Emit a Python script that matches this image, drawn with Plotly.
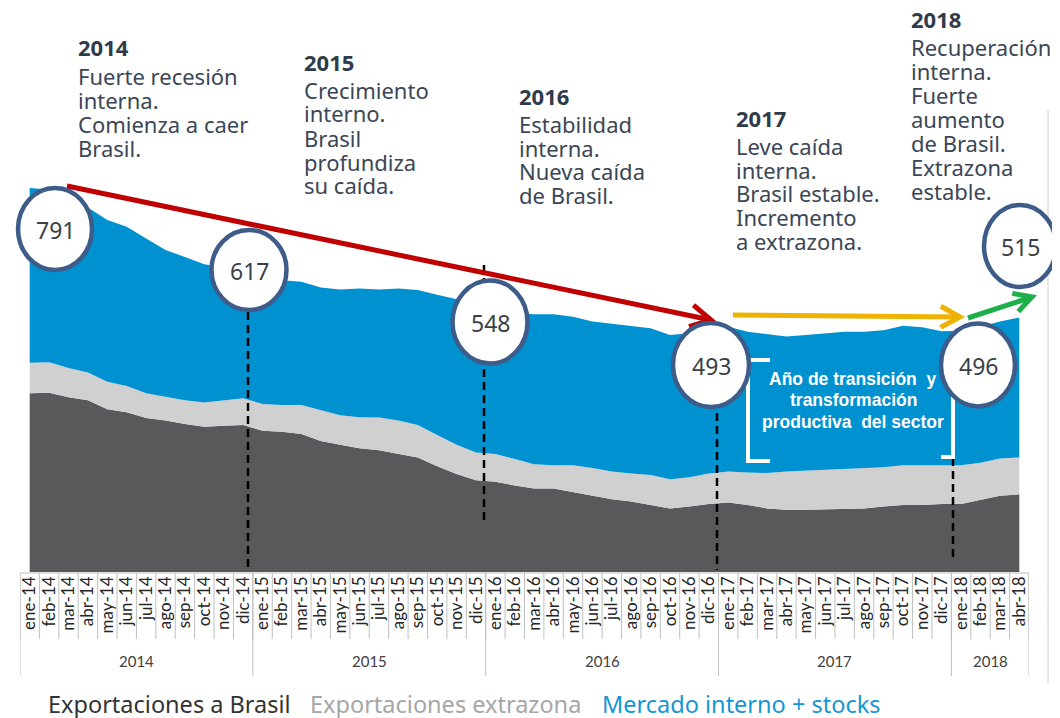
import numpy as np
import plotly.graph_objects as go

# ---- data (miles de unidades, aprox.) ----
meses = ["ene-14", "feb-14", "mar-14", "abr-14", "may-14", "jun-14", "jul-14", "ago-14", "sep-14", "oct-14", "nov-14", "dic-14",
         "ene-15", "feb-15", "mar-15", "abr-15", "may-15", "jun-15", "jul-15", "ago-15", "sep-15", "oct-15", "nov-15", "dic-15",
         "ene-16", "feb-16", "mar-16", "abr-16", "may-16", "jun-16", "jul-16", "ago-16", "sep-16", "oct-16", "nov-16", "dic-16",
         "ene-17", "feb-17", "mar-17", "abr-17", "may-17", "jun-17", "jul-17", "ago-17", "sep-17", "oct-17", "nov-17", "dic-17",
         "ene-18", "feb-18", "mar-18", "abr-18"]
anios = ["2014", "2015", "2016", "2017", "2018"]
meses_por_anio = [12, 12, 12, 12, 4]

brasil = [368, 369, 360, 354, 335, 329, 317, 312, 305, 299, 301, 303,
          291, 289, 284, 270, 262, 255, 251, 244, 236, 218, 202, 189,
          186, 178, 172, 172, 165, 157, 150, 145, 138, 131, 135, 140,
          143, 138, 131, 128, 128, 129, 131, 131, 135, 138, 138, 140,
          140, 148, 157, 160]
extrazona = [63, 63, 60, 57, 57, 54, 51, 49, 49, 50, 52, 55,
             55, 55, 60, 64, 61, 64, 67, 68, 67, 64, 60, 57,
             57, 55, 50, 48, 55, 57, 57, 58, 62, 60, 60, 63,
             64, 67, 73, 79, 81, 81, 81, 83, 81, 82, 82, 80,
             80, 77, 77, 76]
mercado = [360, 356, 352, 340, 333, 328, 319, 302, 295, 285, 274, 259,
           261, 257, 254, 252, 259, 265, 264, 272, 278, 289, 300, 302,
           295, 300, 309, 311, 306, 302, 304, 304, 302, 297, 297, 290,
           298, 290, 286, 278, 279, 282, 283, 281, 282, 287, 284, 276,
           277, 280, 282, 288]

hitos = [791, 617, 548, 493, 496, 515]

series_nombres = ["Exportaciones a Brasil", "Exportaciones extrazona", "Mercado interno + stocks"]

periodos = [
    ("2014", ["Fuerte recesión", "interna.", "Comienza a caer", "Brasil."]),
    ("2015", ["Crecimiento", "interno.", "Brasil", "profundiza", "su caída."]),
    ("2016", ["Estabilidad", "interna.", "Nueva caída", "de Brasil."]),
    ("2017", ["Leve caída", "interna.", "Brasil estable.", "Incremento", "a extrazona."]),
    ("2018", ["Recuperación", "interna.", "Fuerte", "aumento", "de Brasil.", "Extrazona", "estable."]),
]
nota = ["Año de transición\u00a0\u00a0y", "transformación", "productiva\u00a0\u00a0del sector"]

# ---- layout helpers: positions are given in reference pixels ----
# the page body has an 8px margin, so the figure is shifted by that amount
OFF = 8
W, H = 1060 - OFF, 718 - OFF
PL, PR, PB = 20 - OFF, 1029 - OFF, 572 - OFF


def xp(px):
    return (px - OFF - PL) / (PR - PL)


def yp(py):
    return (PB - (py - OFF)) / PB


COL_DARK = "#58595B"
COL_GRAY = "#D0D0D0"
COL_BLUE = "#0091D0"
TXT = "#3B4656"

x = list(range(len(meses)))

fig = go.Figure()
for vals, name, col in zip([brasil, extrazona, mercado], series_nombres, [COL_DARK, COL_GRAY, COL_BLUE]):
    fig.add_trace(go.Scatter(x=x, y=vals, name=name, stackgroup="one", mode="lines",
                             line=dict(width=0, color=col), fillcolor=col, hoverinfo="x+y"))

shapes = []
annotations = []


def texto(t, px, py, size, color, family="Noto Sans", xanchor="center"):
    annotations.append(dict(text=t, xref="paper", yref="paper", x=xp(px), y=yp(py),
                            xanchor=xanchor, yanchor="middle", showarrow=False,
                            font=dict(family=family, size=size, color=color)))


# category box under the chart
grid = dict(color="#BFBFBF", width=1)
shapes.append(dict(type="line", xref="x", yref="paper", x0=-0.5, x1=len(meses) - 0.5,
                   y0=yp(573), y1=yp(573), line=grid))
for i in range(len(meses) + 1):
    shapes.append(dict(type="line", xref="x", yref="paper", x0=i - 0.5, x1=i - 0.5,
                       y0=yp(573), y1=yp(639), line=grid))
bounds = np.concatenate([[0], np.cumsum(meses_por_anio)]) - 0.5
for b in bounds:
    shapes.append(dict(type="line", xref="x", yref="paper", x0=b, x1=b,
                       y0=yp(573), y1=yp(676), line=grid))
for a, b0, b1 in zip(anios, bounds[:-1], bounds[1:]):
    annotations.append(dict(text=a, xref="x", yref="paper", x=(b0 + b1) / 2, y=yp(661),
                            xanchor="center", yanchor="middle", showarrow=False,
                            font=dict(family="Lato", size=15, color="#404040")))

# slide border on the right
shapes.append(dict(type="line", xref="paper", yref="paper", x0=xp(1048), x1=xp(1048),
                   y0=yp(110), y1=yp(684), line=dict(color="#D0D0D0", width=1)))

# dashed markers at each december
for px, top, bot in [(248, 312, 568), (484, 265, 520), (717, 322, 570), (953, 393, 562)]:
    shapes.append(dict(type="line", xref="paper", yref="paper", x0=xp(px), x1=xp(px),
                       y0=yp(top), y1=yp(bot), line=dict(color="black", width=2.5, dash="8px,5px")))

# white bracket around the note
br = dict(color="white", width=4)
shapes.append(dict(type="path", xref="paper", yref="paper",
                   path=f"M {xp(770)} {yp(360)} L {xp(748)} {yp(360)} L {xp(748)} {yp(461)} L {xp(770)} {yp(461)}",
                   line=br))
shapes.append(dict(type="path", xref="paper", yref="paper",
                   path=f"M {xp(953)} {yp(392)} L {xp(953)} {yp(457)} L {xp(941)} {yp(457)}",
                   line=br))
for t, py in zip(nota, [379, 400, 422]):
    texto(f"<b>{t}</b>", 853, py, 17.5, "white", family="Liberation Sans")


def flecha(p0, p1, color, width=5, head=23, ang=0.5):
    (x0, y0), (x1, y1) = p0, p1
    shapes.append(dict(type="line", xref="paper", yref="paper", x0=xp(x0), y0=yp(y0),
                       x1=xp(x1), y1=yp(y1), line=dict(color=color, width=width)))
    back = np.arctan2(y0 - y1, x0 - x1)
    pts = [(x1 + head * np.cos(back + s * ang), y1 + head * np.sin(back + s * ang)) for s in (1, -1)]
    path = (f"M {xp(pts[0][0])} {yp(pts[0][1])} L {xp(x1)} {yp(y1)} "
            f"L {xp(pts[1][0])} {yp(pts[1][1])}")
    shapes.append(dict(type="path", xref="paper", yref="paper", path=path,
                       line=dict(color=color, width=width)))


flecha((67, 186), (711, 320), "#C00000")
flecha((733, 315), (960, 317), "#EEB300", head=22)
flecha((968, 318), (1032, 297), "#1EAF4B", head=20)

# value circles
circulos = [(55, 229, 74, 82), (249, 270, 75, 80), (490, 322, 75, 83),
            (711, 365, 76, 84), (978, 365, 74, 83), (1020, 246, 72, 82)]
for v, (cx, cy, w, h) in zip(hitos, circulos):
    shapes.append(dict(type="circle", xref="paper", yref="paper",
                       x0=xp(cx - w / 2), x1=xp(cx + w / 2), y0=yp(cy + h / 2), y1=yp(cy - h / 2),
                       fillcolor="white", line=dict(color="#3E5C89", width=4.5)))
    texto(str(v), cx, cy + 1, 23, "#3A3F48")

# period texts on top
pos_txt = [(78, 47, [76, 100, 124, 148]),
           (304, 62, [90, 113, 138, 162, 185]),
           (519, 96, [124, 148, 171, 195]),
           (736, 118, [146, 170, 193, 217, 241]),
           (911, 19, [47, 71, 95, 119, 143, 167, 191])]
for (anio, lineas), (px, ty, ys) in zip(periodos, pos_txt):
    texto(f"<b>{anio}</b>", px - 2, ty, 22, "#2F3B4C", xanchor="left")
    for ln, py in zip(lineas, ys):
        texto(ln, px - 2, py, 22, TXT, xanchor="left")

# legend as coloured text
for name, col, px in zip(series_nombres, ["#333333", "#A6A6A6", "#1596D4"], [46, 308, 600]):
    texto(name, px, 704, 23.5, col, xanchor="left")

fig.update_layout(
    width=W, height=H,
    margin=dict(l=PL, r=W - PR, t=0, b=H - PB),
    paper_bgcolor="white", plot_bgcolor="white",
    showlegend=False,
    shapes=shapes, annotations=annotations,
    xaxis=dict(range=[-0.5, len(meses) - 0.5], tickmode="array", tickvals=x, ticktext=meses,
               tickangle=-90, showgrid=False, zeroline=False, showline=False, ticks="",
               tickfont=dict(family="Lato", size=17, color="#262626")),
    yaxis=dict(range=[0, PB / 0.4855], visible=False, showgrid=False, zeroline=False),
)

fig.write_html("out.html")
